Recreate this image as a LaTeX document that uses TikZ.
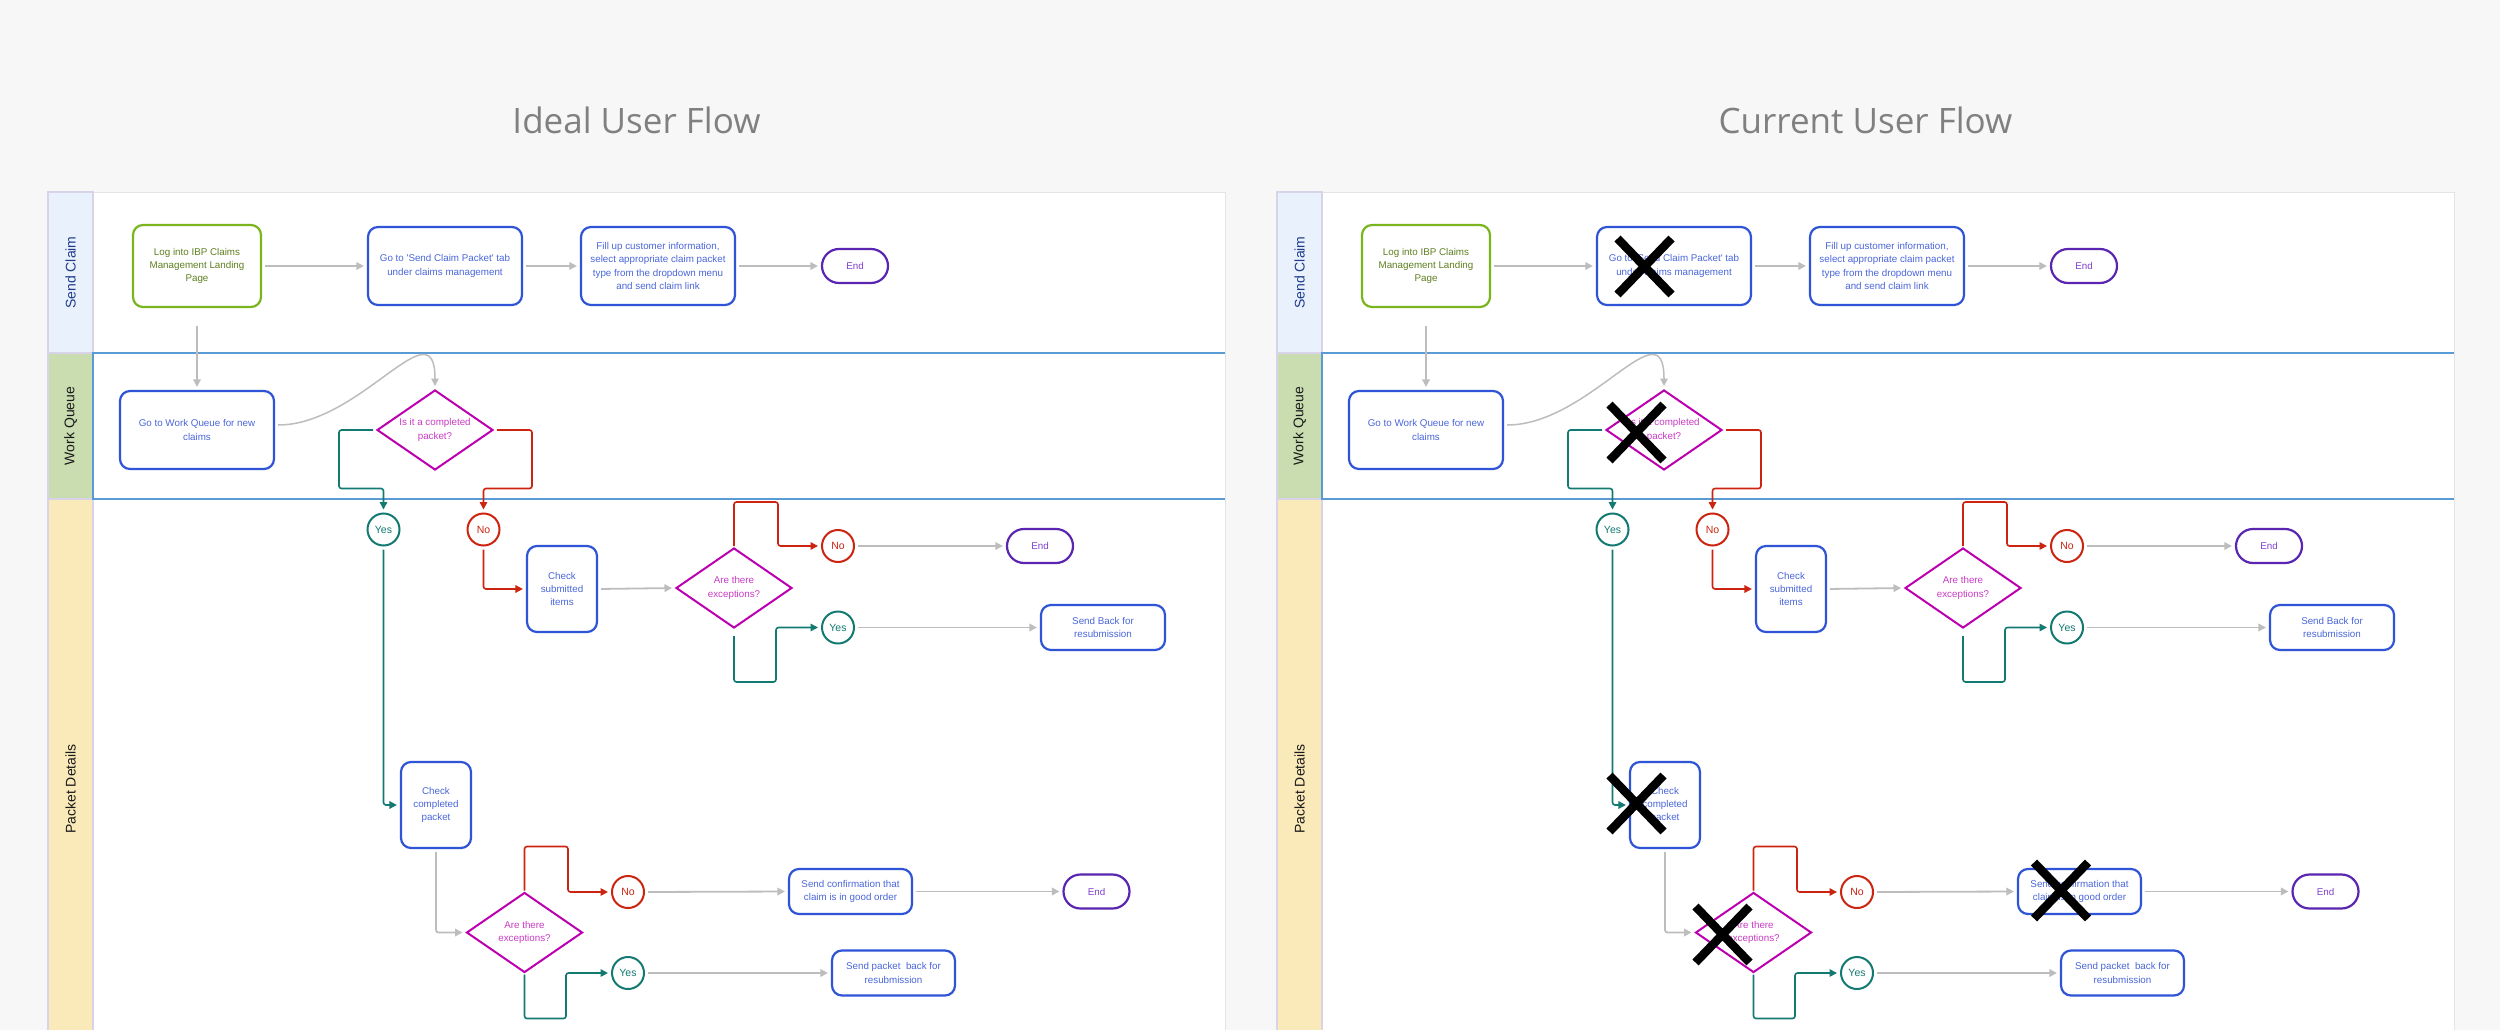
\documentclass[tikz,border=0pt]{standalone}
\usepackage{fontspec}
\setmainfont{Liberation Sans}
\newfontfamily\titlefont{Open Sans}
\usetikzlibrary{
  calc,             % offsets from named nodes
  arrows.meta,      % Triangle tips
  shapes.geometric, % diamond
  shapes.misc       % rounded rectangle
}

\newcommand{\boxfont}{\fontsize{9.8}{13.3}\selectfont}
\newcommand{\dotfont}{\fontsize{10.5}{12}\selectfont}
\newcommand{\lanefont}{\fontsize{14}{16}\selectfont}

\definecolor{bgcol}{HTML}{F7F7F7}
\definecolor{panelline}{HTML}{E4E4E4}
\definecolor{hdrblue}{HTML}{E8F1FC}
\definecolor{hdrgreen}{HTML}{C9DDB0}
\definecolor{hdryellow}{HTML}{FAEAB9}
\definecolor{hdrborder}{HTML}{D8D3E8}
\definecolor{laneblue}{HTML}{5B9BD5}
\definecolor{titlegray}{HTML}{808080}
\definecolor{sendtxt}{HTML}{1F3C8C}
\definecolor{startgreen}{HTML}{7AB51D}
\definecolor{starttext}{HTML}{5E7F1F}
\definecolor{procblue}{HTML}{2F54D6}
\definecolor{proctext}{HTML}{4A66DA}
\definecolor{endpurple}{HTML}{5A25B0}
\definecolor{endtext}{HTML}{8040D0}
\definecolor{decmag}{HTML}{BC00B0}
\definecolor{dectext}{HTML}{C93CC4}
\definecolor{yesteal}{HTML}{137A72}
\definecolor{nored}{HTML}{CC2410}
\definecolor{flowgray}{HTML}{BDBDBD}

\tikzset{
  flowbox/.style={rectangle, rounded corners=10pt, draw=procblue, line width=2.2pt,
    text=proctext, align=center, font=\boxfont, inner sep=0pt},
  startbox/.style={flowbox, draw=startgreen, text=starttext},
  endpill/.style={rounded rectangle, draw=endpurple, line width=2.2pt, text=endtext,
    font=\boxfont, minimum width=66pt, minimum height=34pt, inner sep=0pt},
  decision/.style={diamond, aspect=1.45, draw=decmag, line width=2pt, text=dectext,
    align=center, font=\boxfont, minimum width=116pt, minimum height=80pt, inner sep=0pt},
  yesdot/.style={circle, draw=yesteal, text=yesteal, line width=2pt,
    minimum size=32pt, inner sep=0pt, font=\dotfont},
  nodot/.style={yesdot, draw=nored, text=nored},
  flow/.style={draw=flowgray, line width=1.8pt, -{Triangle[length=7.5pt,width=7.5pt]},
    shorten <=3pt, shorten >=3pt},
  yesline/.style={flow, draw=yesteal, line width=1.6pt, rounded corners=2.5pt},
  noline/.style={flow, draw=nored, line width=1.6pt, rounded corners=2.5pt},
  lanehead/.style={draw=hdrborder, line width=1.2pt},
  lanelabel/.style={rotate=90, font=\lanefont, text=black!90},
  crossx/.style={draw=black, line width=8.5pt},
  paneltitle/.style={font=\titlefont\fontsize{35}{40}\selectfont, text=titlegray}
}

\begin{document}
\begin{tikzpicture}[x=1pt, y=-1pt]
\useasboundingbox (0,0) rectangle (2500,1030);
\fill[bgcol] (0,0) rectangle (2500,1030);

\foreach \p/\dx/\ttl in {L/0/Ideal User Flow,R/1229/Current User Flow}{
\begin{scope}[xshift=\dx pt]
  % panel and swimlanes
  \node[paneltitle] (\p-title) at (636.5,120) {\ttl};
  \draw[panelline, fill=white, line width=1pt] (48,192) rectangle (1225,1040);
  \draw[lanehead, fill=hdrblue] (48,192) rectangle (93,353);
  \draw[lanehead, fill=hdrgreen] (48,353) rectangle (93,499);
  \draw[lanehead, fill=hdryellow] (48,499) rectangle (93,1040);
  \draw[laneblue, line width=1.5pt] (1225,353) -- (93,353) -- (93,499) -- (1225,499);
  \node[lanelabel, text=sendtxt] (\p-lane1) at (70.5,272.5) {Send Claim};
  \node[lanelabel] (\p-lane2) at (70.5,426) {Work Queue};
  \node[lanelabel] (\p-lane3) at (70.5,789) {Packet Details};

  % send claim
  \node[startbox, minimum width=128pt, minimum height=82pt] (\p-log) at (197,266)
    {Log into IBP Claims\\Management Landing\\Page};
  \node[flowbox, minimum width=154pt, minimum height=78pt] (\p-gotab) at (445,266)
    {Go to \textquotesingle Send Claim Packet\textquotesingle\ tab\\under claims management};
  \node[flowbox, minimum width=154pt, minimum height=78pt] (\p-fill) at (658,266)
    {Fill up customer information,\\select appropriate claim packet\\type from the dropdown menu\\and send claim link};
  \node[endpill] (\p-end1) at (855,266) {End};

  % work queue
  \node[flowbox, minimum width=154pt, minimum height=78pt] (\p-wq) at (197,430)
    {Go to Work Queue for new\\claims};
  \node[decision] (\p-comp) at (435,430) {Is it a completed\\packet?};

  % packet details
  \node[yesdot] (\p-yes1) at (383.5,529.5) {Yes};
  \node[nodot] (\p-no1) at (483.5,529.5) {No};
  \node[flowbox, minimum width=70pt, minimum height=86pt] (\p-chks) at (562,589)
    {Check\\submitted\\items};
  \node[decision] (\p-exc1) at (734,588) {Are there\\exceptions?};
  \node[nodot] (\p-no2) at (838,546) {No};
  \node[endpill] (\p-end2) at (1040,546) {End};
  \node[yesdot] (\p-yes2) at (838,627.5) {Yes};
  \node[flowbox, minimum width=124pt, minimum height=45pt] (\p-sendbk) at (1103,627.5)
    {Send Back for\\resubmission};
  \node[flowbox, minimum width=70pt, minimum height=86pt] (\p-chkc) at (436,805)
    {Check\\completed\\packet};
  \node[decision] (\p-exc2) at (524.5,932.5) {Are there\\exceptions?};
  \node[nodot] (\p-no3) at (628,892) {No};
  \node[flowbox, minimum width=123pt, minimum height=45pt] (\p-conf) at (850.5,891.5)
    {Send confirmation that\\claim is in good order};
  \node[endpill] (\p-end3) at (1096.5,891.5) {End};
  \node[yesdot] (\p-yes3) at (628,973) {Yes};
  \node[flowbox, minimum width=123pt, minimum height=45pt] (\p-sendpk) at (893.5,973)
    {Send packet~ back for\\resubmission};

  % connectors
  \draw[flow] (\p-log.east) -- (\p-gotab.west);
  \draw[flow] (\p-gotab.east) -- (\p-fill.west);
  \draw[flow] (\p-fill.east) -- (\p-end1.west);
  \draw[flow, shorten <=18pt] (\p-log.south) -- (\p-wq.north);
  \draw[flow, shorten <=0pt, line width=1.5pt] ($(\p-wq.east)+(3,-5)$)
    .. controls +(83,0) and +(0,-85) .. (\p-comp.north);
  \draw[yesline] (\p-comp.west) -- ++(-37,0) |- ($(\p-yes1.north)+(0,-24)$) -- (\p-yes1.north);
  \draw[noline] (\p-comp.east) -- ++(38,0) |- ($(\p-no1.north)+(0,-24)$) -- (\p-no1.north);
  \draw[noline] (\p-no1.south) |- (\p-chks.west);
  \draw[flow] (\p-chks.east) -- (\p-exc1.west);
  \draw[noline, shorten <=1pt] (\p-exc1.north) -- ++(0,-45) -| ($(\p-no2.west)+(-43,0)$) -- (\p-no2.west);
  \draw[yesline, shorten <=7pt] (\p-exc1.south) -- ++(0,53) -| ($(\p-yes2.west)+(-45,0)$) -- (\p-yes2.west);
  \draw[flow] (\p-no2.east) -- (\p-end2.west);
  \draw[flow] (\p-yes2.east) -- (\p-sendbk.west);
  \draw[yesline] (\p-yes1.south) |- (\p-chkc.west);
  \draw[flow, rounded corners=2.5pt] (\p-chkc.south) |- (\p-exc2.west);
  \draw[noline, shorten <=1pt] (\p-exc2.north) -- ++(0,-45) -| ($(\p-no3.west)+(-43,0)$) -- (\p-no3.west);
  \draw[yesline, shorten <=1pt] (\p-exc2.south) -- ++(0,45) -| ($(\p-yes3.west)+(-45,0)$) -- (\p-yes3.west);
  \draw[flow] (\p-no3.east) -- (\p-conf.west);
  \draw[flow] (\p-conf.east) -- (\p-end3.west);
  \draw[flow] (\p-yes3.east) -- (\p-sendpk.west);
\end{scope}
}

% crossed-out steps in the current flow
\foreach \n/\ox/\oy in {gotab/-29.5/0.5,comp/-27.5/2.5,chkc/-28.5/-1.5,exc2/-31/2,conf/-18.5/-1}{
  \draw[crossx] ($(R-\n)+(\ox-27,\oy-28)$) -- ($(R-\n)+(\ox+27,\oy+28)$)
                ($(R-\n)+(\ox+27,\oy-28)$) -- ($(R-\n)+(\ox-27,\oy+28)$);
}
\end{tikzpicture}
\end{document}
